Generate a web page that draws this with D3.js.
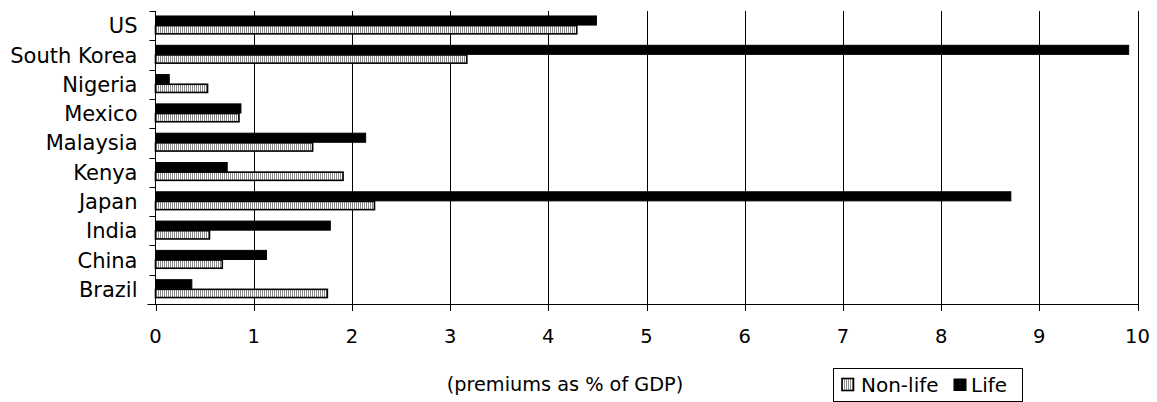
<!DOCTYPE html>
<html><head><meta charset="utf-8">
<script src="https://cdn.jsdelivr.net/npm/d3@7"></script>
<style>body{margin:0;background:#fff}svg{display:block}text{font-family:"DejaVu Sans",Verdana,sans-serif;fill:#000}</style>
</head><body><svg id="c" width="1157" height="402"></svg>
<script>
const categories = ["US","South Korea","Nigeria","Mexico","Malaysia","Kenya","Japan","India","China","Brazil"];
const lifeValues = [4.49, 9.91, 0.14, 0.87, 2.14, 0.73, 8.71, 1.78, 1.13, 0.37];
const nonLifeValues = [4.29, 3.17, 0.53, 0.85, 1.60, 1.91, 2.23, 0.55, 0.68, 1.75];
const xTicks = [0,1,2,3,4,5,6,7,8,9,10];
const xTitle = "(premiums as % of GDP)";
const legendLabels = ["Non-life", "Life"];

const svg = d3.select("#c");
const pL = 155.5, pR = 1137.5, pT = 11, pB = 304;
const x = d3.scaleLinear().domain([0,10]).range([pL, pR]);
const y = d3.scaleBand().domain(categories).range([pT, pB]).paddingInner(0).paddingOuter(0);
const bw = y.bandwidth();

const defs = svg.append("defs");
const pat = defs.append("pattern").attr("id","hatch").attr("patternUnits","userSpaceOnUse")
  .attr("width",2).attr("height",4);
pat.append("rect").attr("width",2).attr("height",4).attr("fill","#fff");
pat.append("rect").attr("width",1).attr("height",4).attr("fill","#8a8a8a");

// gridlines
svg.append("g").selectAll("line").data(xTicks.filter(d=>d>0)).join("line")
  .attr("x1",d=>Math.round(x(d))+0.5).attr("x2",d=>Math.round(x(d))+0.5)
  .attr("y1",pT).attr("y2",pB).attr("stroke","#000").attr("stroke-width",1);

// bars
const g = svg.append("g");
categories.forEach((c,i)=>{
  const b = y(c);
  g.append("rect").attr("x",x(0)).attr("y",b+0.17*bw).attr("width",x(lifeValues[i])-x(0)).attr("height",0.31*bw)
    .attr("fill","#000").attr("stroke","#000").attr("stroke-width",1);
  g.append("rect").attr("x",x(0)).attr("y",b+0.5*bw).attr("width",x(nonLifeValues[i])-x(0)).attr("height",0.28*bw)
    .attr("fill","url(#hatch)").attr("stroke","#000").attr("stroke-width",1.6);
});

// y axis
const yAxis = svg.append("g");
yAxis.append("line").attr("x1",pL).attr("x2",pL).attr("y1",pT).attr("y2",pB).attr("stroke","#000");
const bounds = categories.map(c=>y(c)).concat([pB]);
yAxis.selectAll("line.t").data(bounds).join("line").attr("class","t")
  .attr("x1",pL-6).attr("x2",pL).attr("y1",d=>Math.round(d)+0.5).attr("y2",d=>Math.round(d)+0.5).attr("stroke","#000");
yAxis.selectAll("text").data(categories).join("text")
  .attr("x",pL-18).attr("y",d=>y(d)+bw/2).attr("dy","0.36em").attr("text-anchor","end")
  .attr("font-size","21px").text(d=>d);

// x axis
const xAxis = svg.append("g");
xAxis.append("line").attr("x1",pL-8).attr("x2",pR+1).attr("y1",pB+0.5).attr("y2",pB+0.5).attr("stroke","#000");
xAxis.selectAll("line.t").data(xTicks).join("line").attr("class","t")
  .attr("x1",d=>Math.round(x(d))+0.5).attr("x2",d=>Math.round(x(d))+0.5).attr("y1",pB).attr("y2",pB+7).attr("stroke","#000");
xAxis.selectAll("text").data(xTicks).join("text")
  .attr("x",d=>x(d)).attr("y",343).attr("text-anchor","middle").attr("font-size","19.5px").text(d=>d);

svg.append("text").attr("x",565).attr("y",391).attr("text-anchor","middle").attr("font-size","19.3px").text(xTitle);

// legend
const lg = svg.append("g");
lg.append("rect").attr("x",833.5).attr("y",368.5).attr("width",189).attr("height",33).attr("fill","#fff").attr("stroke","#000");
lg.append("rect").attr("x",842).attr("y",378.5).attr("width",11.5).attr("height",12).attr("fill","url(#hatch)").attr("stroke","#000").attr("stroke-width",1.6);
lg.append("text").attr("x",861).attr("y",392).attr("font-size","20px").text(legendLabels[0]);
lg.append("rect").attr("x",953.5).attr("y",378.5).attr("width",13).attr("height",12.5).attr("fill","#000");
lg.append("text").attr("x",971).attr("y",392).attr("font-size","20px").text(legendLabels[1]);
</script></body></html>
